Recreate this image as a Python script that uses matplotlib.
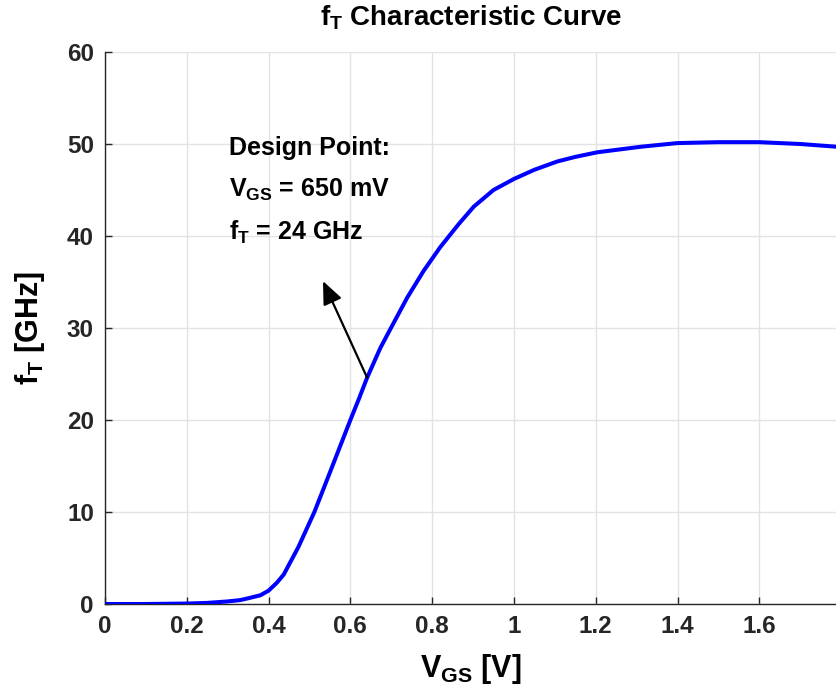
import matplotlib
matplotlib.use("Agg")
import matplotlib.pyplot as plt

# f_T vs V_GS
vgs = [0.0, 0.1, 0.2, 0.25, 0.3, 0.33, 0.35, 0.38, 0.4, 0.42, 0.437, 0.473,
       0.512, 0.55, 0.6, 0.62, 0.641, 0.673, 0.698, 0.739, 0.779, 0.82, 0.865,
       0.902, 0.95, 1.0, 1.05, 1.106, 1.15, 1.204, 1.31, 1.4, 1.5, 1.6, 1.7,
       1.79]
ft = [0.0, 0.0, 0.05, 0.12, 0.28, 0.42, 0.62, 0.95, 1.45, 2.3, 3.2, 6.2,
      10.0, 14.3, 20.0, 22.2, 24.6, 27.8, 29.9, 33.3, 36.2, 38.8, 41.3,
      43.2, 45.0, 46.2, 47.2, 48.1, 48.6, 49.1, 49.7, 50.1, 50.2, 50.2, 50.0,
      49.7]

x_ticks = [0, 0.2, 0.4, 0.6, 0.8, 1, 1.2, 1.4, 1.6]
x_tick_labels = ['0', '0.2', '0.4', '0.6', '0.8', '1', '1.2', '1.4', '1.6']
y_ticks = [0, 10, 20, 30, 40, 50, 60]

note_lines = ['Design Point:', '$V_{GS}$ = 650 mV', '$f_T$ = 24 GHz']
arrow_tail = (0.641, 24.6)
arrow_head = (0.533, 35.1)

plt.rcParams['font.family'] = 'Liberation Sans'
plt.rcParams['font.weight'] = 'bold'
plt.rcParams['mathtext.fontset'] = 'custom'
plt.rcParams['mathtext.rm'] = 'Liberation Sans:bold'
plt.rcParams['mathtext.it'] = 'Liberation Sans:bold'
plt.rcParams['mathtext.bf'] = 'Liberation Sans:bold'
plt.rcParams['mathtext.default'] = 'rm'

fig = plt.figure(figsize=(8.37, 7.0), dpi=100)
ax = fig.add_axes([105 / 837, 1 - 604 / 700, (837 - 105) / 837, (604 - 52) / 700])

ax.plot(vgs, ft, color=(0, 0, 1), linewidth=2.9, solid_capstyle='round', zorder=3)

ax.set_xlim(0, 1.79)
ax.set_ylim(0, 60)
ax.set_xticks(x_ticks)
ax.set_xticklabels(x_tick_labels)
ax.set_yticks(y_ticks)
ax.tick_params(direction='in', length=5, width=1, colors='#262626',
               labelsize=17.5, pad=8)
ax.grid(True, color='#e3e3e3', linewidth=1)
ax.set_axisbelow(True)
for side in ['top', 'right']:
    ax.spines[side].set_visible(False)
for side in ['left', 'bottom']:
    ax.spines[side].set_color('#262626')
    ax.spines[side].set_linewidth(1)

ax.set_title('$f_T$ Characteristic Curve', fontsize=20, fontweight='bold', pad=19)
ax.set_xlabel('$V_{GS}$ [V]', fontsize=22, fontweight='bold', labelpad=10)
ax.set_ylabel('$f_T$ [GHz]', fontsize=22, fontweight='bold', labelpad=14)

for i, line in enumerate(note_lines):
    ax.text(0.303, 49.6 - i * 4.6, line, fontsize=18, fontweight='bold',
            ha='left', va='center', color='black')

ax.annotate('', xy=arrow_head, xytext=arrow_tail,
            arrowprops=dict(arrowstyle='-|>,head_length=0.7,head_width=0.3',
                            color='black', lw=1.6, mutation_scale=20,
                            shrinkA=0, shrinkB=0))

fig.savefig('out.png', dpi=100)
